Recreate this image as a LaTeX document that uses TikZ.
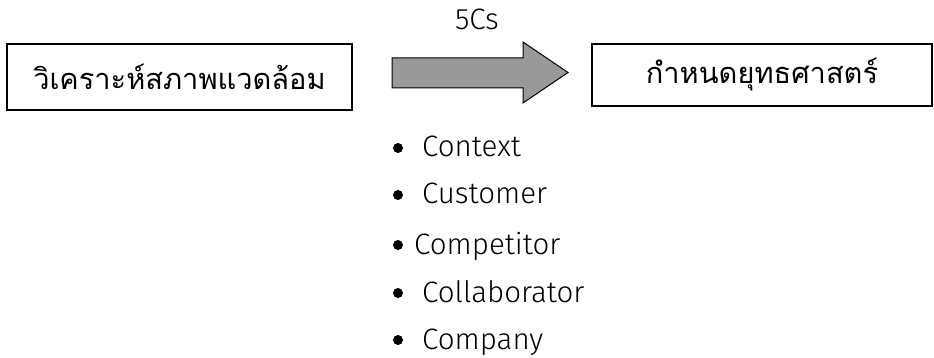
\documentclass[tikz,border=0pt]{standalone}
\usepackage{fontspec}
\setmainfont{Fira Sans Light}
\newfontfamily\thaifont[Script=Thai]{Loma}
\usetikzlibrary{positioning}

\tikzset{
  stagebox/.style={draw, line width=1.1pt, inner sep=0pt, font=\thaifont\fontsize{29}{34}\selectfont},
  itemtext/.style={anchor=base west, inner sep=0pt, font=\fontsize{29.5}{34}\selectfont},
  dot/.style={circle, fill=black, inner sep=0pt, minimum size=10pt},
}

\begin{document}
\begin{tikzpicture}[x=1pt, y=-1pt]
  \useasboundingbox (0,0) rectangle (934,358);
  % the two stages
  \node[stagebox, minimum width=345pt, minimum height=66pt] (scan) at (179.5,77) {วิเคราะห์สภาพแวดล้อม};
  \node[stagebox, minimum width=340pt, minimum height=62pt] (plan) at (762,75) {กำหนดยุทธศาสตร์};
  % the fat arrow between them
  \draw[line width=1pt, fill=gray!80]
    (392,58) -- (523,58) -- (523,42) -- (568,72.5) -- (523,103) -- (523,88) -- (392,88) -- cycle;
  \node[font=\fontsize{29.5}{34}\selectfont] (fivecs) at (477,19) {5Cs};
  % the five Cs, text baseline 9pt under each dot
  \node[dot] (d1) at (398,148) {};
  \node[itemtext] (context) at (422,157) {Context};
  \node[dot] (d2) at (398,195) {};
  \node[itemtext] (customer) at (422,204) {Customer};
  \node[dot] (d3) at (398,245) {};
  \node[itemtext] (competitor) at (414,254) {Competitor};
  \node[dot] (d4) at (398,293) {};
  \node[itemtext] (collaborator) at (422,302) {Collaborator};
  \node[dot] (d5) at (398,340) {};
  \node[itemtext] (company) at (422,349) {Company};
\end{tikzpicture}
\end{document}
